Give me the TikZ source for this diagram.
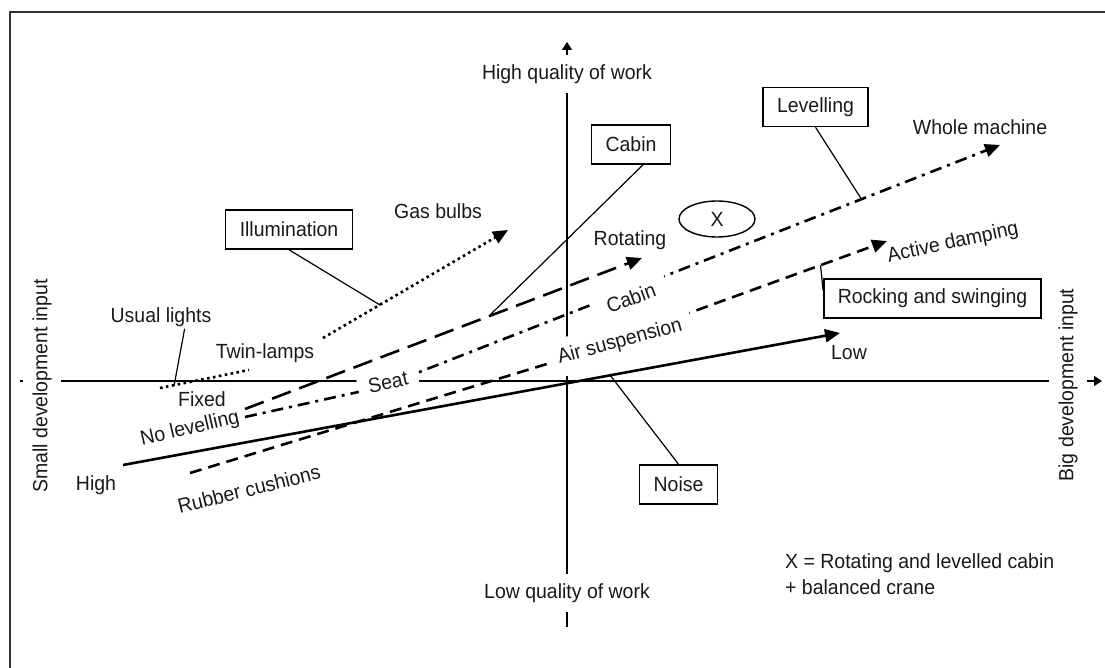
\documentclass[tikz,border=0pt]{standalone}
\usepackage{fontspec}
\setmainfont{Liberation Sans}[FakeStretch=0.95]
\usetikzlibrary{arrows.meta,shapes.geometric,calc}

\begin{document}
\begin{tikzpicture}[x=1pt,y=-1pt,
  every node/.style={font=\fontsize{20.5}{26}\selectfont, inner sep=2pt, text=black!90},
  axis/.style={line width=1.4pt},
  axistip/.style={-{Triangle[length=8pt,width=10pt]}},
  masklabel/.style={fill=white, inner xsep=10.5pt, inner ysep=9.5pt},
  tag/.style={draw, line width=1.5pt, minimum height=39pt, inner xsep=14pt},
  callout/.style={line width=1.2pt},
  bigtip/.style={-{Triangle[length=15pt,width=13pt]}},
  trend/.style={line width=2.6pt},
  dotline/.style={trend, dash pattern=on 2.6pt off 3.4pt},
  longdash/.style={trend, dash pattern=on 20pt off 9pt},
  dashdot/.style={trend, dash pattern=on 12pt off 6pt on 3pt off 6pt},
  shortdash/.style={trend, dash pattern=on 12pt off 7pt},
]
\useasboundingbox (0,0) rectangle (1105,668);

% outer frame
\draw[line width=2pt, black!80] (9.5,668) -- (9.5,12) -- (1105,12);

% axes
\coordinate (hx0) at (20,381);
\coordinate (hx1) at (1102,381);
\coordinate (vy0) at (567,627);
\coordinate (vy1) at (567,42);
\draw[axis, axistip] (hx0) -- (hx1);
\draw[axis, axistip] (vy0) -- (vy1);

% noise: high -> low
\coordinate (n0) at (123,465);
\coordinate (n1) at (840,333);
\draw[trend, bigtip] (n0) -- (n1);

% rocking and swinging: rubber cushions -> active damping
\coordinate (r0) at (190,473);
\coordinate (r1) at (560,360);
\coordinate (r2) at (887,241);
\draw[shortdash, bigtip] (r0) -- (r1) -- (r2);

% levelling: no levelling -> whole machine
\coordinate (l0) at (245,417);
\coordinate (l1) at (381,387);
\coordinate (l2) at (1000,145);
\draw[dashdot, bigtip] (l0) -- (l1) -- (l2);

% cabin: fixed -> rotating
\coordinate (c0) at (245,409);
\coordinate (c1) at (642,258);
\draw[longdash, bigtip] (c0) -- (c1);

% illumination: usual lights, twin-lamps, gas bulbs
\coordinate (i0) at (160,388);
\coordinate (i1) at (249,370);
\coordinate (i2) at (323,338);
\coordinate (i3) at (508,230);
\draw[dotline] (i0) -- (i1);
\draw[dotline, bigtip] (i2) -- (i3);

% labels that sit on lines and axes
\node[masklabel, rotate=90] (smalldev) at (42,386) {Small development input};
\node[masklabel, rotate=90] (bigdev) at (1068,385) {Big development input};
\node[masklabel] (hq) at (567,74) {High quality of work};
\node[masklabel] (lq) at (567,593) {Low quality of work};
\node[masklabel, rotate=12] (seat) at (388,382) {Seat};
\node[masklabel, rotate=20, inner xsep=13pt] (cabinlvl) at (631,298) {Cabin};
\node[masklabel, rotate=15] (airsusp) at (620,342) {Air suspension};

% boxed factors
\node[tag] (cabinbox) at (631,144.5) {Cabin};
\node[tag] (levbox) at (815.5,107) {Levelling};
\node[tag] (illumbox) at (289,229.5) {Illumination};
\node[tag] (rockbox) at (932.5,298.5) {Rocking and swinging};
\node[tag] (noisebox) at (678.5,484.5) {Noise};
\node[draw, ellipse, line width=1.4pt, minimum width=76pt, minimum height=36pt, inner sep=0pt] (xmark) at (717,219) {X};

% level labels
\node (high) at (96,485) {High};
\node (low) at (849,353) {Low};
\node (usual) at (161,317) {Usual lights};
\node (twin) at (265,353) {Twin-lamps};
\node (gas) at (438,211) {Gas bulbs};
\node (rot) at (630,240) {Rotating};
\node (whole) at (980,127) {Whole machine};
\node (fixed) at (202,399) {Fixed};
\node[rotate=13] (nolev) at (190,429) {No levelling};
\node[rotate=14] (rubber) at (249,489) {Rubber cushions};
\node[rotate=12] (active) at (953,243) {Active damping};

% callouts from boxes to their lines
\coordinate (cabinhit) at (490,315);
\coordinate (levhit) at (862,200);
\coordinate (illumhit) at (380,305);
\coordinate (rockhit) at (820.5,265);
\coordinate (noisehit) at (610,375);
\coordinate (usualhit) at (174,386);
\draw[callout] ($(cabinbox.south west)!0.65!(cabinbox.south east)$) -- (cabinhit);
\draw[callout] (levbox.south) -- (levhit);
\draw[callout] (illumbox.south) -- (illumhit);
\draw[callout] ($(rockbox.north west)!0.3!(rockbox.south west)$) -- (rockhit);
\draw[callout] (noisebox.north) -- (noisehit);
\draw[callout] ($(usual.south)!0.45!(usual.south east)$) -- (usualhit);

% legend
\node[anchor=north west, align=left] (legend) at (783,551) {X = Rotating and levelled cabin\\+ balanced crane};
\end{tikzpicture}
\end{document}
